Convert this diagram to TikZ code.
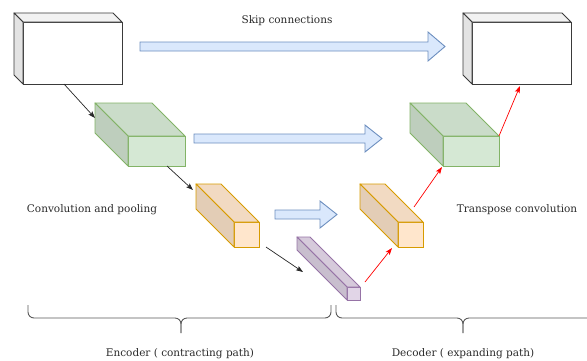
\documentclass[tikz,border=0pt]{standalone}
\usepackage{fontspec}
\setmainfont{DejaVu Serif}
\usetikzlibrary{arrows.meta}

\definecolor{grnfill}{HTML}{D5E8D4}
\definecolor{grnline}{HTML}{82B366}
\definecolor{orgfill}{HTML}{FFE6CC}
\definecolor{orgline}{HTML}{D79B00}
\definecolor{prpfill}{HTML}{E1D5E7}
\definecolor{prpline}{HTML}{9673A6}
\definecolor{blufill}{HTML}{DAE8FC}
\definecolor{bluline}{HTML}{6C8EBF}
\definecolor{boxline}{HTML}{3A3A3A}
\definecolor{txt}{HTML}{2A2A2A}

\tikzset{
  face/.style={rectangle, inner sep=0pt, outer sep=0pt, line width=0.9pt},
  blockarrow/.style={fill=blufill, draw=bluline, line width=0.9pt, line join=miter},
  fwd/.style={draw=black!85, line width=0.7pt, -{Stealth[length=7pt,width=5pt,inset=1.5pt]}},
  back/.style={draw=red, line width=0.7pt, -{Stealth[length=7pt,width=5pt,inset=1.5pt]}},
  brace/.style={draw=black!65, line width=0.9pt, rounded corners=6pt},
  lbl/.style={inner sep=0pt, text=txt, font=\fontsize{10.5}{12}\selectfont},
}

% cuboid: name, x1, y1, x2, y2 (front face corners), depth, fill, line colour
\newcommand{\cuboid}[8]{%
  \node[face, fill=#7, draw=#8,
        minimum width={(#4-#2)*1pt}, minimum height={(#5-#3)*1pt}]
        (#1) at ({(#2+#4)/2},{(#3+#5)/2}) {};
  \draw[fill=#7!95!black, draw=#8, line width=0.9pt, line join=round]
    (#1.north west) -- ++(-#6,-#6) -- ++({#4-#2},0) -- (#1.north east) -- cycle;
  \draw[fill=#7!89!black, draw=#8, line width=0.9pt, line join=round]
    (#1.north west) -- ++(-#6,-#6) -- ++(0,{#5-#3}) -- (#1.south west) -- cycle;
}

\begin{document}
\begin{tikzpicture}[x=1pt, y=-1pt]
  \useasboundingbox (0,0) rectangle (587,360);

  % encoder blocks
  \cuboid{enc1}{23}{22}{122}{84}{9}{white}{boxline}
  \cuboid{enc2}{128}{136}{185}{166}{33}{grnfill}{grnline}
  \cuboid{enc3}{234}{222}{259}{247}{38}{orgfill}{orgline}
  % bottleneck
  \cuboid{mid}{347}{287}{360}{300}{50}{prpfill}{prpline}
  % decoder blocks
  \cuboid{dec3}{398}{222}{423}{247}{38}{orgfill}{orgline}
  \cuboid{dec2}{443}{136}{499}{166}{33}{grnfill}{grnline}
  \cuboid{dec1}{472}{22}{571}{84}{9}{white}{boxline}

  % skip connections
  \draw[blockarrow] (140,42) -- (428,42) -- (428,32) -- (445,46.5) -- (428,61) -- (428,51) -- (140,51) -- cycle;
  \draw[blockarrow] (194,134) -- (365,134) -- (365,125) -- (382,138.5) -- (365,152) -- (365,143) -- (194,143) -- cycle;
  \draw[blockarrow] (275,210) -- (320,210) -- (320,201) -- (337,214.5) -- (320,228) -- (320,219) -- (275,219) -- cycle;

  % contracting path
  \draw[fwd] ([shift={(41,0)}]enc1.south west) -- ([shift={(-33,-18)}]enc2.north west);
  \draw[fwd] ([shift={(39,0)}]enc2.south west) -- ([shift={(-41,-32)}]enc3.north west);
  \draw[fwd] ([shift={(7,0)}]enc3.south east) -- ([shift={(-44,-15)}]mid.north west);

  % expanding path
  \draw[back] ([shift={(5,-5)}]mid.north east) -- ([shift={(-6,1)}]dec3.south west);
  \draw[back] ([shift={(-9,-15)}]dec3.north east) -- ([shift={(-1,1)}]dec2.south west);
  \draw[back] (dec2.north east) -- ([shift={(-1.5,2)}]dec1.south);

  % labels
  \node[lbl] (skip) at (287,21) {Skip connections};
  \node[lbl] (conv) at (92,210) {Convolution and pooling};
  \node[lbl] (tconv) at (517,210) {Transpose convolution};

  % braces
  \draw[brace] (28,305) -- (28,318) -- (181,318) -- (181,333);
  \draw[brace] (331,305) -- (331,318) -- (181,318) -- (181,333);
  \draw[brace] (336,305) -- (336,318) -- (463,318) -- (463,333);
  \draw[brace] (587,318) -- (463,318) -- (463,333);

  \node[lbl] (enc) at (180,354) {Encoder ( contracting path)};
  \node[lbl] (dec) at (463,354) {Decoder ( expanding path)};
\end{tikzpicture}
\end{document}
